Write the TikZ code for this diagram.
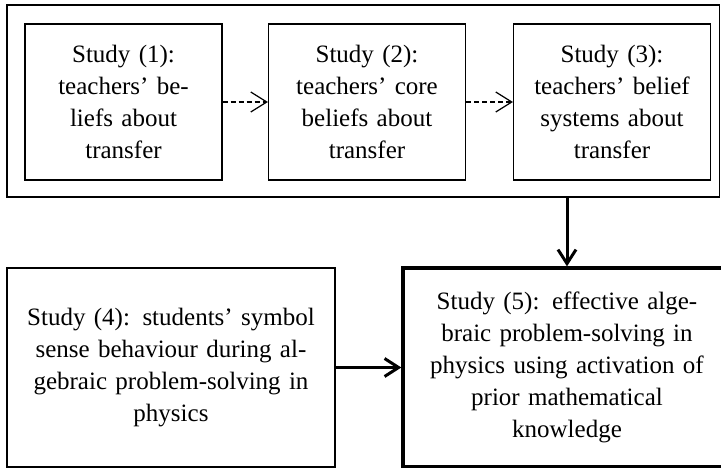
\documentclass[tikz,border=0pt]{standalone}
\usepackage{fontspec}
\setmainfont{Liberation Serif}
\usepackage{tikz}
\usetikzlibrary{arrows.meta}
\usetikzlibrary{calc}

\begin{document}
\begin{tikzpicture}[x=1pt, y=-1pt,
	study_node/.style={rectangle,draw,line width=1.2pt,align=center,inner sep=0pt,
		font=\fontsize{25}{32}\selectfont},
	top_node/.style={study_node,text width=190pt,minimum width=197pt,minimum height=156pt},
	low_node/.style={study_node,text width=320pt,minimum width=328pt,minimum height=199pt},
	group_node/.style={rectangle,draw,line width=1.2pt,minimum width=712.5pt,minimum height=192pt,inner sep=0pt},
	thin_arrow/.style={draw,line width=1.2pt,dash pattern=on 5pt off 3pt,-{Straight Barb[length=16pt,width=20pt]}},
	thick_arrow/.style={draw,line width=3pt,-{Straight Barb[length=14pt,width=18pt]}}]
				
				\useasboundingbox (0,0) rectangle (721,468);
				\clip (0,0) rectangle (721,468);
				
				\node[group_node] (group) at (363.25, 101) {};
				
				\node[top_node] (1) at (123.5, 102) {Study (1):\\ teachers’ be-\\ liefs about\\ transfer};
				\node[top_node] (2) at (367, 102) {Study (2):\\ teachers’ core\\ beliefs about\\ transfer};
				\node[top_node] (3) at (612, 102) {Study (3):\\ teachers’ belief\\ systems about\\ transfer};
				
				\node[low_node] (4) at (171, 367.5) {Study (4): students’ symbol\\ sense behaviour during al-\\ gebraic problem-solving in\\ physics};
				\node[low_node,line width=3.3pt] (5) at (567, 367.5) {Study (5): effective alge-\\ braic problem-solving in\\ physics using activation of\\ prior mathematical\\ knowledge};
				
				\path
				(1) edge[thin_arrow]  node {} (2)
				(2) edge[thin_arrow]  node {} (3);
				
				\path
				(group.south -| 5.north) edge[thick_arrow] node {} (5.north)
				(4) edge[thick_arrow] node {} (5);
			\end{tikzpicture}
\end{document}
